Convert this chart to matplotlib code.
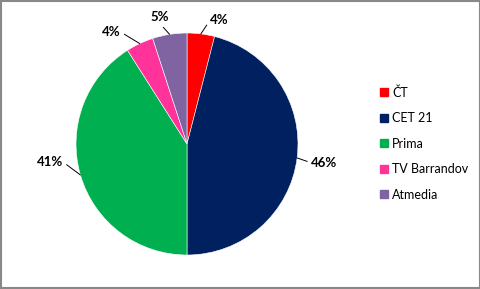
import matplotlib
matplotlib.use("Agg")
import matplotlib.pyplot as plt
from matplotlib.patches import Rectangle
import numpy as np

plt.rcParams['font.family'] = ['Lato', 'DejaVu Sans']

labels = ['ČT', 'CET 21', 'Prima', 'TV Barrandov', 'Atmedia']
shares = [4, 46, 41, 4, 5]
colors = ['#FF0000', '#002060', '#00B050', '#FF3399', '#8064A2']

# label text positions (data units, pie radius = 1)
label_pos = [(0.21, 1.12), (1.12, -0.17), (-1.12, -0.16), (-0.6, 1.01), (-0.245, 1.14)]
label_ha = ['left', 'left', 'right', 'right', 'center']

W, H = 481, 289
fig = plt.figure(figsize=(W / 100, H / 100), dpi=100)

cx, cy, r = 187, 145, 111
ax = fig.add_axes([(cx - r) / W, (cy - r) / H, 2 * r / W, 2 * r / H])
wedges, _ = ax.pie(shares, colors=colors, startangle=90, counterclock=False,
                   wedgeprops=dict(linewidth=0.4, edgecolor='white'))
ax.set_xlim(-1, 1)
ax.set_ylim(-1, 1)
ax.set_aspect('equal')

total = sum(shares)
for w, s, (tx, ty), ha in zip(wedges, shares, label_pos, label_ha):
    mid = np.deg2rad((w.theta1 + w.theta2) / 2)
    ex, ey = np.cos(mid), np.sin(mid)
    relpos = {'left': (0, 0.5), 'right': (1, 0.5), 'center': (0.5, 0)}[ha]
    ax.annotate(f"{round(s / total * 100)}%", xy=(ex, ey), xytext=(tx, ty),
                ha=ha, va='center', fontsize=9.5, fontweight='bold',
                annotation_clip=False,
                arrowprops=dict(arrowstyle='-', color='black', lw=0.7,
                                shrinkA=1, shrinkB=0, relpos=relpos))

handles = [Rectangle((0, 0), 1, 1, color=c) for c in colors]
fig.legend(handles, labels, loc='center left', bbox_to_anchor=(0.766, 0.504),
           frameon=False, fontsize=9, handlelength=0.65, handleheight=0.65,
           handletextpad=0.35, labelspacing=1.08)

fig.add_artist(Rectangle((0.002, 0.003), 0.995, 0.994, transform=fig.transFigure,
                         fill=False, edgecolor='#888888', lw=1.5))

fig.savefig('out.png', dpi=100)
